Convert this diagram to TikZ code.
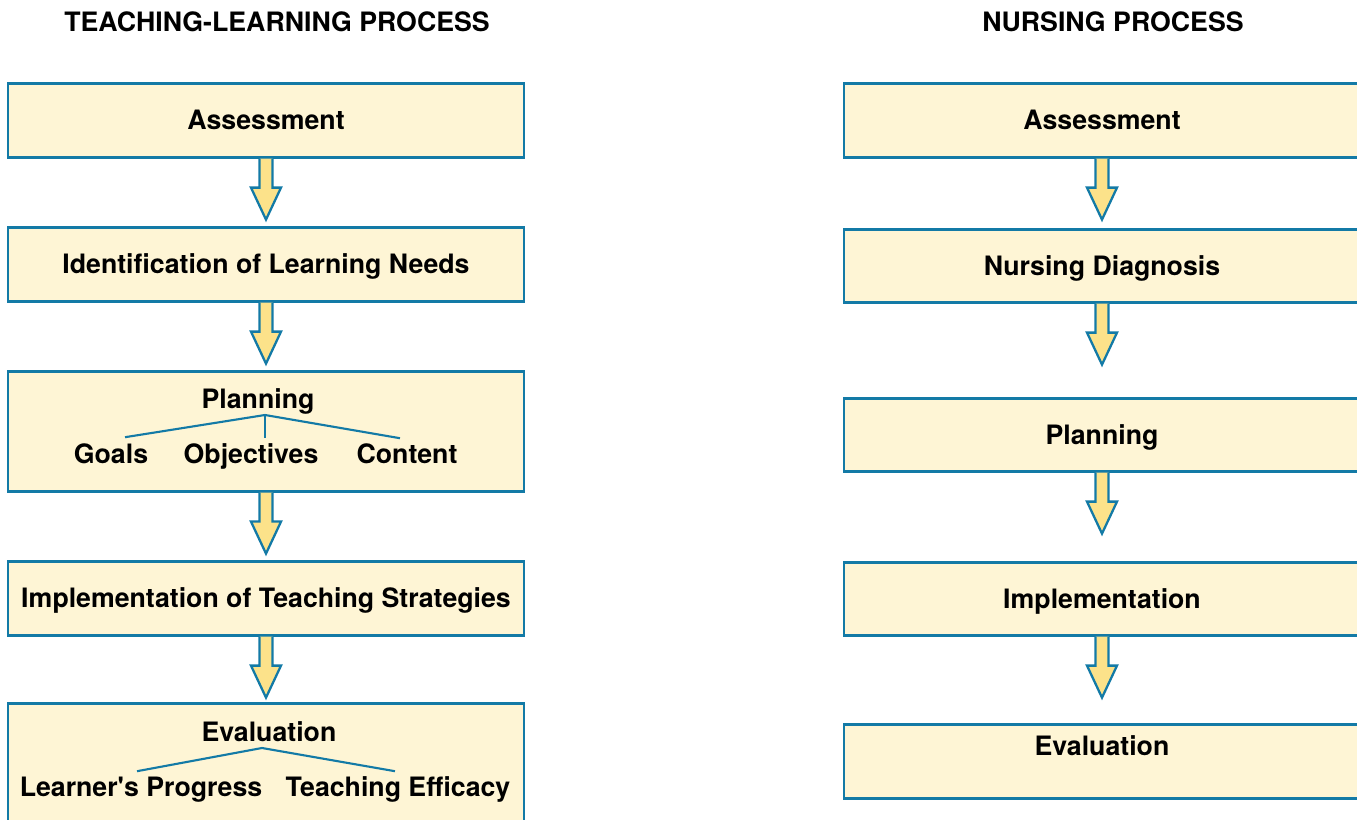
\documentclass[tikz,border=0pt]{standalone}
\usepackage{fontspec}
\setmainfont{TeX Gyre Heros}
\usetikzlibrary{calc, positioning}
\definecolor{boxfill}{HTML}{FEF5D5}
\definecolor{boxline}{HTML}{137AA6}
\definecolor{arrfill}{HTML}{FCE28A}

\begin{document}
\begin{tikzpicture}[
    x=0.02cm, y=-0.02cm,
    every node/.style={font=\fontsize{15.2}{18}\selectfont\bfseries, text height=10.9pt, text depth=0pt},
    stage/.style={draw=boxline, fill=boxfill, line width=1.5pt, minimum width=10.32cm,
                  minimum height=1.48cm, anchor=north, inner sep=0pt},
    tall/.style={stage, minimum height=2.4cm},
    arr/.style={draw=boxline, fill=arrfill, line width=1.3pt, line join=miter},
    twig/.style={draw=boxline, line width=1.2pt}]

  \useasboundingbox (0,0) rectangle (1357,820);

  % column titles
  \node (tl-title) at (277,22) {TEACHING-LEARNING PROCESS};
  \node (np-title) at (1113,22) {NURSING PROCESS};

  % teaching-learning process (left)
  \node[stage] (tl1) at (266,82)  {Assessment};
  \node[stage] (tl2) at (266,226) {Identification of Learning Needs};
  \node[tall]  (tl3) at (266,370) {};
  \node[stage] (tl4) at (266,560) {Implementation of Teaching Strategies};
  \node[tall]  (tl5) at (266,702) {};

  % planning sub-items
  \node (plan) at (258,399) {Planning};
  \node (goals) at (111,454) {Goals};
  \node (objs) at (251,454) {Objectives};
  \node (cont) at (407,454) {Content};
  \coordinate (pl-root) at (265,415);
  \draw[twig] (pl-root) -- ($(goals.north)+(14,-1)$);
  \draw[twig] (pl-root) -- ($(objs.north)+(14,0)$);
  \draw[twig] (pl-root) -- ($(cont.north)+(-7,0)$);

  % evaluation sub-items
  \node (eval) at (269,732) {Evaluation};
  \node (lprog) at (141,787) {Learner\textquotesingle s Progress};
  \node (teff) at (398,787) {Teaching Efficacy};
  \coordinate (ev-root) at (262,748);
  \draw[twig] (ev-root) -- ($(lprog.north)+(-4,0)$);
  \draw[twig] (ev-root) -- ($(teff.north)+(-3,0)$);

  % nursing process (right)
  \node[stage] (np1) at (1102,82)  {Assessment};
  \node[stage, minimum height=1.46cm] (np2) at (1102,228) {Nursing Diagnosis};
  \node[stage, minimum height=1.46cm] (np3) at (1102,397) {Planning};
  \node[stage, minimum height=1.46cm] (np4) at (1102,561) {Implementation};
  \node[stage] (np5) at (1102,723) {};
  \node (np-eval) at (1102,746) {Evaluation};

  % block arrows between stages
  \foreach \b in {tl1,tl2,tl3,tl4,np1,np2,np3,np4}
    \draw[arr] (\b.south) ++(-6.5,0) -- ++(0,29) -- ++(-8.5,0) -- ++(15,32)
               -- ++(15,-32) -- ++(-8.5,0) -- ++(0,-29);
\end{tikzpicture}
\end{document}
